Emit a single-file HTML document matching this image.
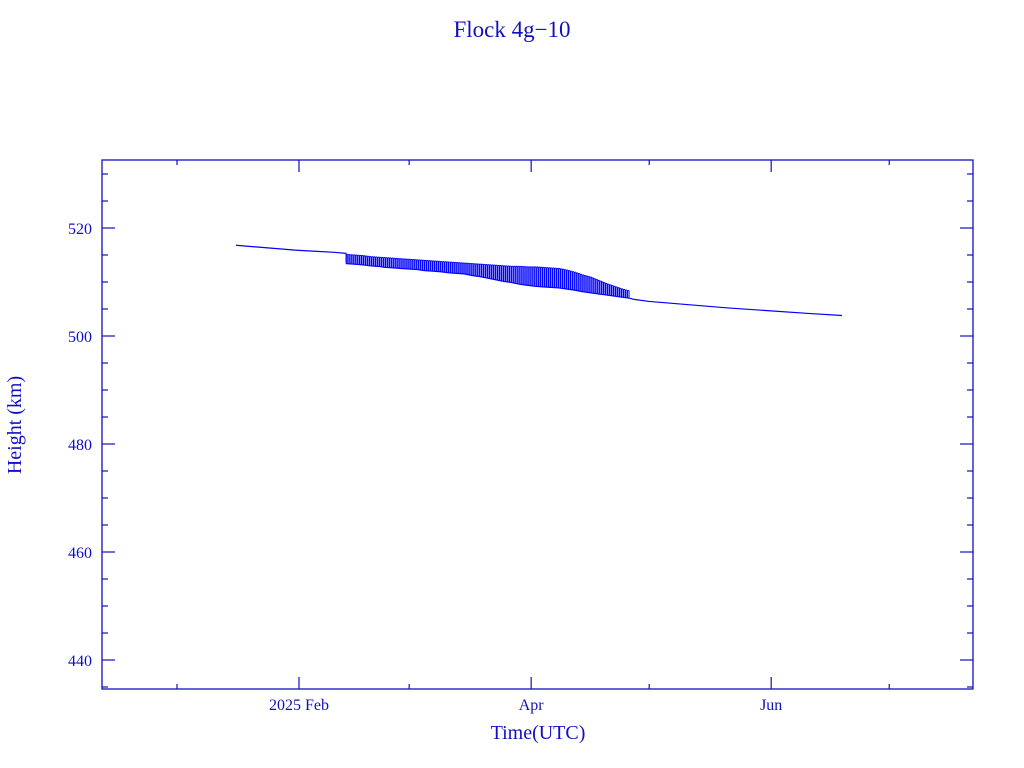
<!DOCTYPE html>
<html><head><meta charset="utf-8"><style>
body{margin:0;background:#fff;}
svg{display:block;font-family:"Liberation Serif",serif;}
</style></head><body>
<svg id="chart" width="1024" height="768" xmlns="http://www.w3.org/2000/svg">
<text x="512" y="37" text-anchor="middle" font-size="23" fill="#1010c0">Flock 4g−10</text>
<rect x="102" y="160" width="871" height="529" fill="none" stroke="#1010c0" stroke-width="1.3"/>
<text transform="translate(21,425) rotate(-90)" text-anchor="middle" font-size="20" fill="#1010c0">Height (km)</text>
<text x="538" y="739" text-anchor="middle" font-size="20" fill="#1010c0">Time(UTC)</text>
<g id="axes"></g>
<g id="series"></g>
</svg>
<script>
const headDays=[15,20,25,30,35,40,43];
const headH=[516.8,516.5,516.2,515.9,515.7,515.5,515.3];
const spikeDays=[43,45,47,49,51,53,55,57,59,61,63,65,67,69,71,73,75,77,79,81,83,85,87,89,91,93,95,97,99,101,103,105,107,109,111,113,115];
const spikeLow=[513.4,513.3,513.2,513.0,512.9,512.7,512.6,512.5,512.4,512.3,512.1,512.0,511.9,511.7,511.6,511.5,511.2,511.0,510.7,510.4,510.1,509.9,509.6,509.4,509.2,509.1,509.0,508.9,508.7,508.5,508.2,508.0,507.8,507.6,507.4,507.2,507.0];
const spikeHigh=[515.1,515.0,514.9,514.7,514.6,514.5,514.4,514.3,514.2,514.1,514.0,513.9,513.8,513.7,513.6,513.5,513.4,513.3,513.2,513.1,513.0,512.9,512.9,512.8,512.8,512.7,512.6,512.5,512.2,511.8,511.3,510.9,510.3,509.7,509.2,508.7,508.3];
const tailDays=[116,120,130,140,150,160,169];
const tailH=[506.8,506.4,505.8,505.2,504.7,504.2,503.8];
const yTicks=[440,460,480,500,520];
const xMajorDays=[31,90,151];
const xMajorLabels=["2025 Feb","Apr","Jun"];
const xMinorDays=[0,59,120,181];

const NS="http://www.w3.org/2000/svg";
const L=102,R=973,T=160,B=689;
function xs(d){return 177+d*3.935;}
function ys(h){return 228+(520-h)*5.4;}
const C="#1010c0";
const axes=document.getElementById('axes');
const ser=document.getElementById('series');
function line(g,x1,y1,x2,y2,name,col,w){
  const l=document.createElementNS(NS,'line');
  l.setAttribute('x1',x1);l.setAttribute('y1',y1);l.setAttribute('x2',x2);l.setAttribute('y2',y2);
  l.setAttribute('stroke',col||C);l.setAttribute('stroke-width',w||1.2);
  
  
  g.appendChild(l);
}
function text(x,y,s,anchor,name){
  const t=document.createElementNS(NS,'text');
  t.setAttribute('x',x);t.setAttribute('y',y);t.setAttribute('text-anchor',anchor);
  t.setAttribute('font-size','16');t.setAttribute('fill',C);t.textContent=s;
  
  
  axes.appendChild(t);
}
// y ticks
for(let h=435;h<=530;h+=5){
  const y=ys(h); if(y<T||y>B)continue;
  const major=(h%20===0);
  const len=major?13:6;
  line(axes,L,y,L+len,y,'y-tick');
  line(axes,R-len,y,R,y,'y-tick-right');
}
yTicks.forEach(v=>text(92,ys(v)+6,String(v),'end','y-tick-label'));
xMajorDays.forEach((d,i)=>{
  const x=xs(d);
  line(axes,x,B,x,B-12,'x-tick');
  line(axes,x,T,x,T+12,'x-tick-top');
  text(x,710,xMajorLabels[i],'middle','x-tick-label');
});
xMinorDays.forEach(d=>{
  const x=xs(d);
  line(axes,x,B,x,B-5,'x-minor-tick');
  line(axes,x,T,x,T+5,'x-minor-tick-top');
});
// series
function poly(days,vals,name){
  const p=document.createElementNS(NS,'polyline');
  p.setAttribute('points',days.map((d,i)=>xs(d)+','+ys(vals[i])).join(' '));
  p.setAttribute('fill','none');p.setAttribute('stroke','#0000ff');p.setAttribute('stroke-width','1.2');
  
  
  ser.appendChild(p);
}
poly(headDays,headH,'height-line-start');
poly(tailDays,tailH,'height-line-end');
// spiky region: low baseline plus vertical spikes
poly(spikeDays,spikeLow,'height-line-low');
line(ser,xs(spikeDays[0]),ys(headH[headH.length-1]),xs(spikeDays[0]),ys(spikeLow[0]),'transition','#0000ff');
line(ser,xs(spikeDays[spikeDays.length-1]),ys(spikeLow[spikeLow.length-1]),xs(tailDays[0]),ys(tailH[0]),'transition','#0000ff');
for(let i=0;i<spikeDays.length-1;i++){
  for(let k=0;k<4;k++){
    const f=k/4;
    const d=spikeDays[i]+(spikeDays[i+1]-spikeDays[i])*f;
    const lo=spikeLow[i]+(spikeLow[i+1]-spikeLow[i])*f;
    const hi=spikeHigh[i]+(spikeHigh[i+1]-spikeHigh[i])*f;
    const x=xs(d);
    line(ser,x,ys(lo),x,ys(hi),'height-spike','#0000ff',1);
    line(ser,x,ys(hi),x+1.5,ys(hi),'height-spike-top','#0000ff',1);
    line(ser,x+1.5,ys(hi),x+1.5,ys(lo),'height-spike','#0000ff',1);
  }
}
</script>
</body></html>
